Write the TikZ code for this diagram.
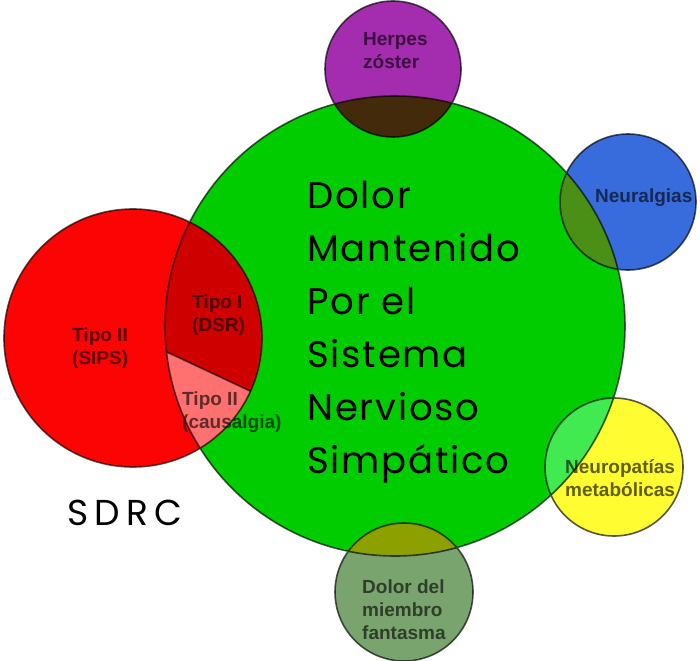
\documentclass[tikz,border=0pt]{standalone}
\usepackage{fontspec}
\setmainfont{Liberation Sans}
\newfontfamily\geofont{Poppins}
\usetikzlibrary{positioning}
\definecolor{snsgreen}{RGB}{0,204,0}
\definecolor{sdrcred}{RGB}{252,4,4}
\definecolor{dsrred}{RGB}{206,0,0}
\definecolor{causpink}{RGB}{255,112,112}
\definecolor{herpes}{RGB}{164,44,174}
\definecolor{herpesdark}{RGB}{66,42,10}
\definecolor{neural}{RGB}{56,108,220}
\definecolor{neuraldark}{RGB}{74,144,22}
\definecolor{metab}{RGB}{255,252,50}
\definecolor{metabdark}{RGB}{64,234,80}
\definecolor{phantom}{RGB}{122,164,110}
\definecolor{phantomdark}{RGB}{140,160,0}

\begin{document}
\begin{tikzpicture}[x=1pt,y=-1pt,
    lbl/.style={font=\bfseries\fontsize{19}{23}\selectfont,align=left,anchor=west,
      inner sep=0pt,text=black!62},
    rim/.style={draw=black!66,line width=1.6pt}]
 \useasboundingbox (0,0) rectangle (700,660);
 \coordinate (G) at (395,326);
 \coordinate (R) at (133,338);
 \coordinate (H) at (393,69);
 \coordinate (N) at (628,202);
 \coordinate (M) at (614,467);
 \coordinate (F) at (404,592);
 \coordinate (cutA) at (137,338);
 \coordinate (cutB) at (327,427);
 % fills
 \fill[snsgreen] (G) circle (230);
 \fill[sdrcred] (R) circle (129);
 \fill[herpes] (H) circle (68);
 \fill[neural] (N) circle (68);
 \fill[metab] (M) circle (69);
 \fill[phantom] (F) circle (69);
 \begin{scope}
  \clip (G) circle (230);
  \fill[herpesdark] (H) circle (68);
  \fill[neuraldark] (N) circle (68);
  \fill[metabdark] (M) circle (69);
  \fill[phantomdark] (F) circle (69);
  \clip (R) circle (129);
  \fill[dsrred] (R) circle (129);
  \fill[causpink] (cutA) -- (cutB) -- (327,600) -- (100,600) -- cycle;
 \end{scope}
 % outlines and labels
 \begin{scope}[blend mode=multiply]
  \draw[rim] (G) circle (230) (R) circle (129) (H) circle (68)
   (N) circle (68) (M) circle (69) (F) circle (69);
  \begin{scope}
   \clip (G) circle (230);
   \clip (R) circle (129);
   \draw[rim] (cutA) -- (cutB);
  \end{scope}
  \node[lbl] (herpesTxt) at (363,51) {Herpes\\zóster};
  \node[lbl] (neuralTxt) at (595,198) {Neuralgias};
  \node[lbl] (metabTxt) at (565,478) {Neuropatías\\metabólicas};
  \node[lbl] (phantomTxt) at (362,610) {Dolor del\\miembro\\fantasma};
  \node[lbl] (sipsTxt) at (72,348) {Tipo II\\(SIPS)};
  \node[lbl] (dsrTxt) at (192,315) {Tipo I\\(DSR)};
  \node[lbl] (causTxt) at (182,412) {Tipo II\\(causalgia)};
 \end{scope}
 \node[font=\geofont\addfontfeature{LetterSpace=5}\fontsize{37}{53}\selectfont,
   align=left,anchor=north west,inner sep=0pt] (snsTxt) at (307,181)
  {Dolor\\Mantenido\\Por el\\Sistema\\Nervioso\\Simpático};
 \node[font=\geofont\addfontfeature{LetterSpace=17}\fontsize{36}{40}\selectfont,
   anchor=base west,inner sep=0pt] (sdrcTxt) at (67,525) {SDRC};
\end{tikzpicture}
\end{document}
